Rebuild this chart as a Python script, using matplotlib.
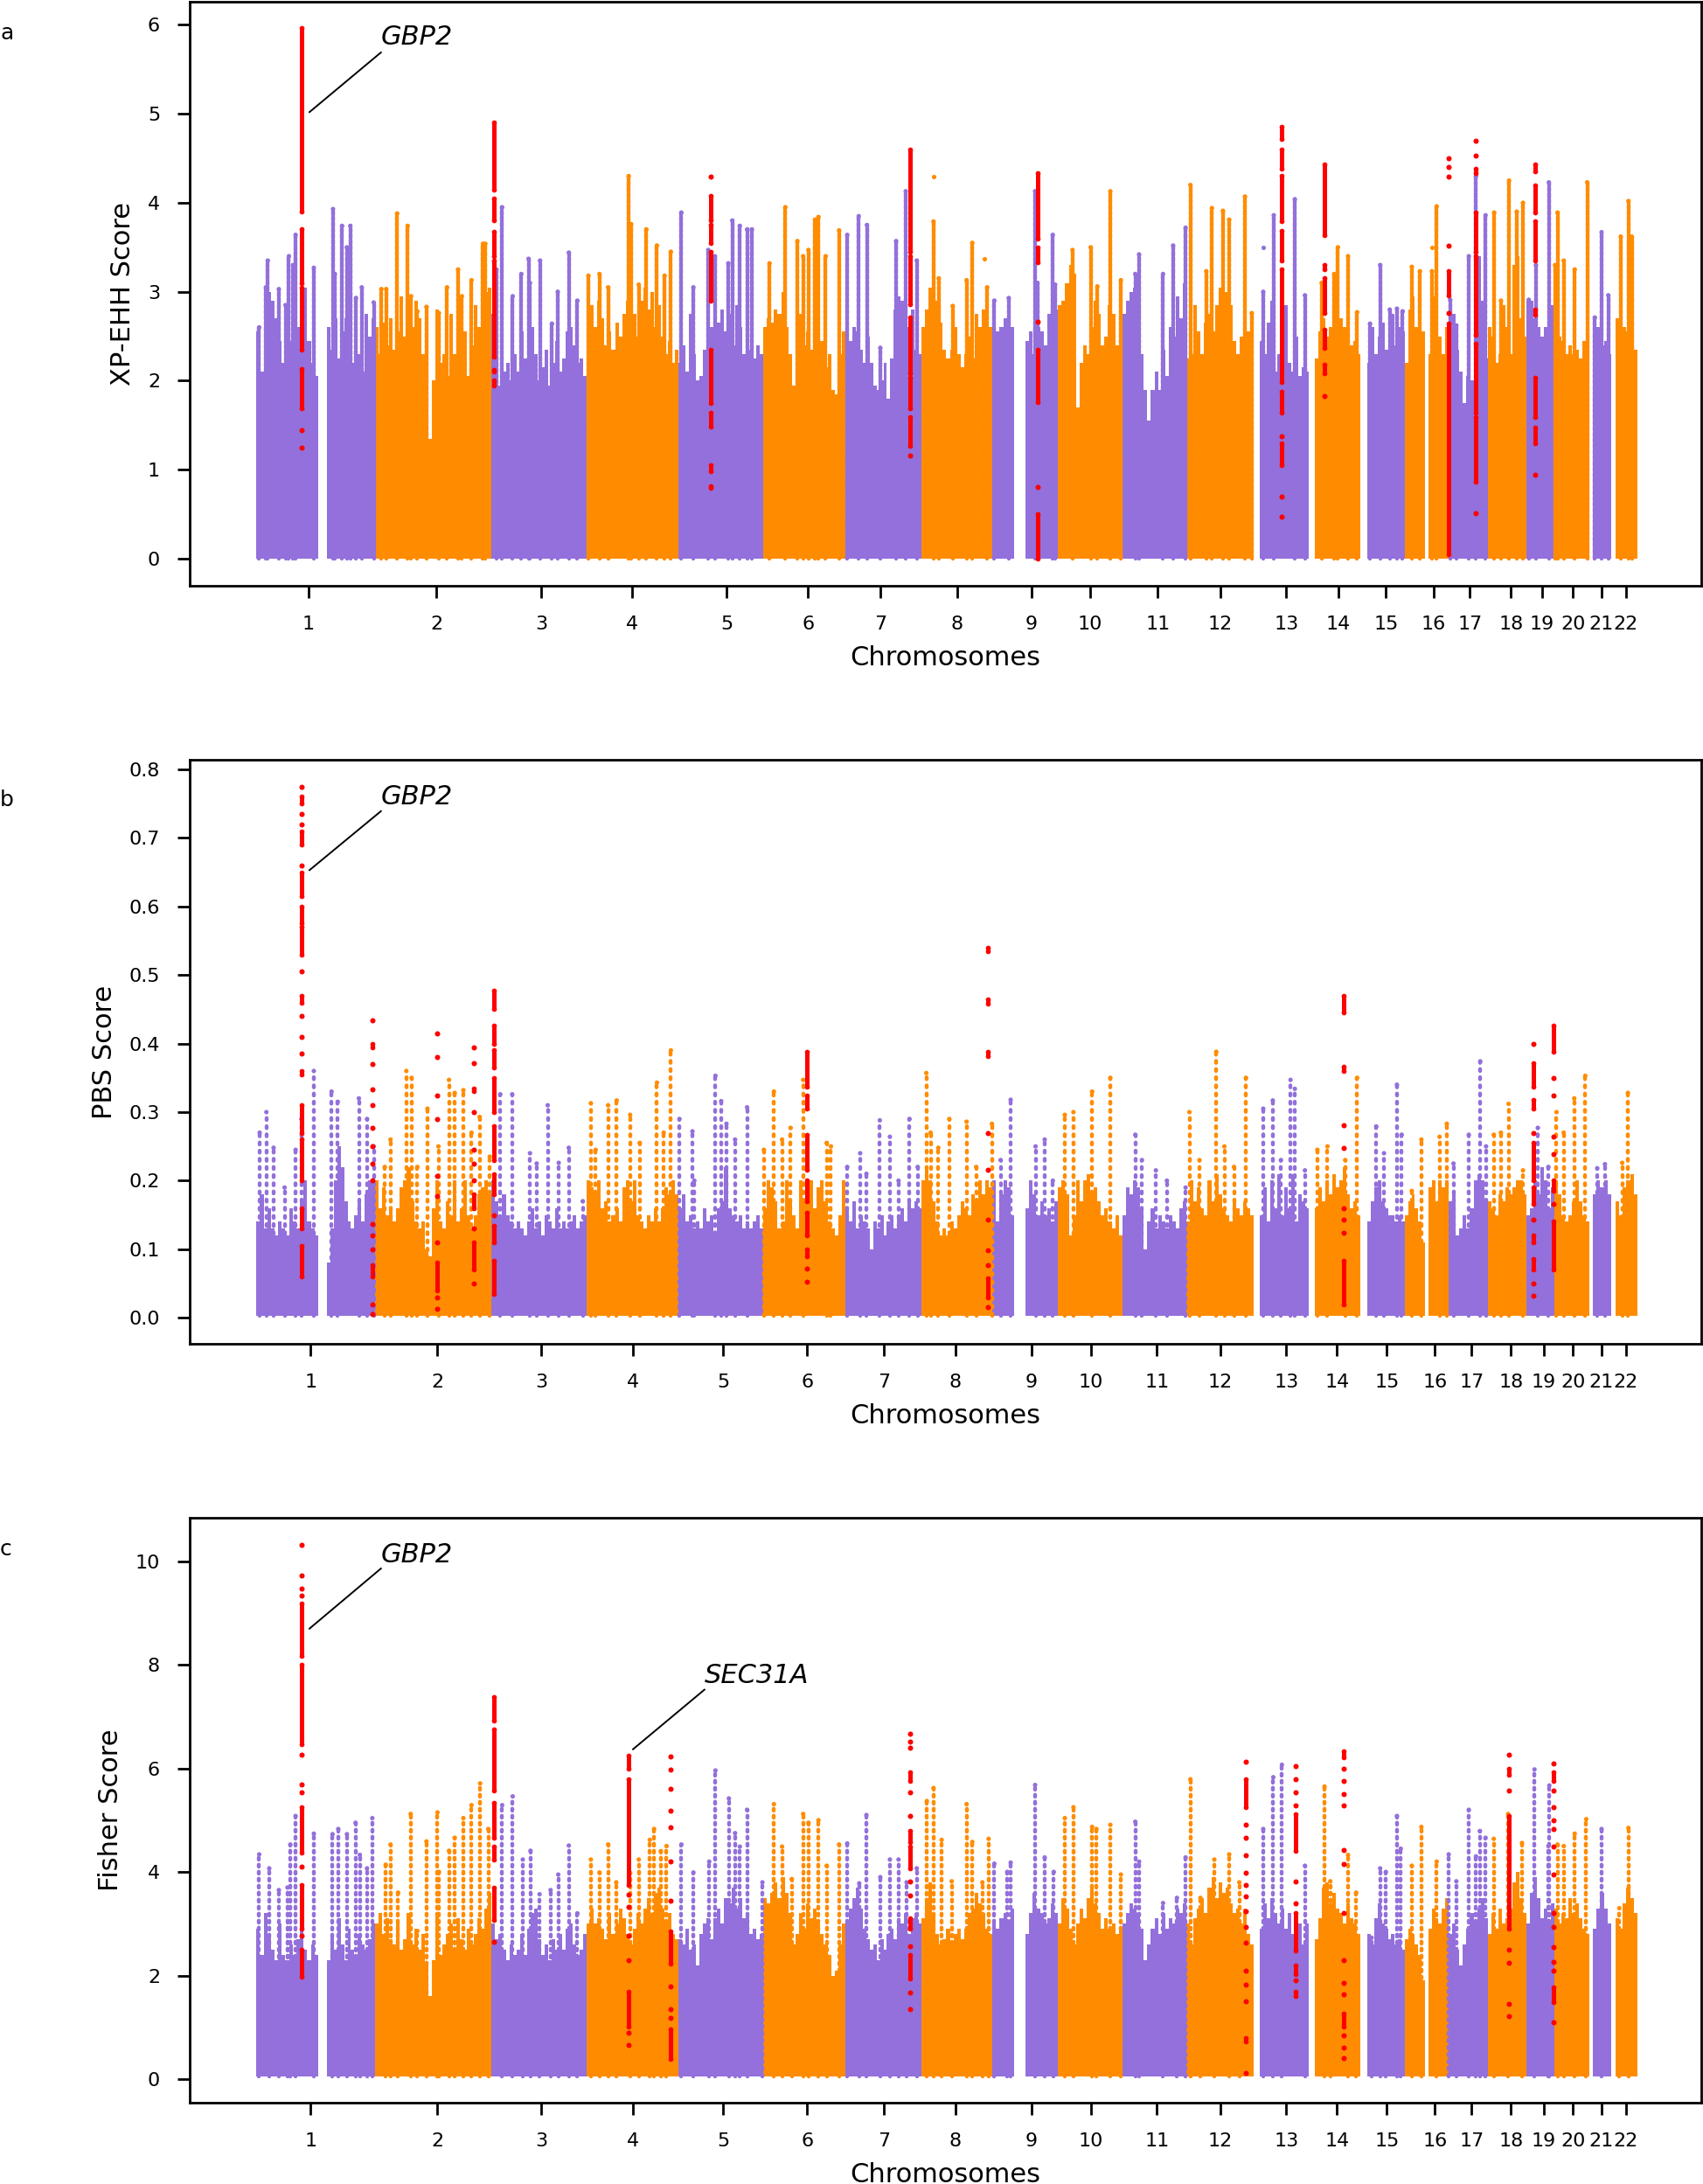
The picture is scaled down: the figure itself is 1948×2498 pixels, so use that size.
import matplotlib
matplotlib.use('Agg')
import matplotlib.pyplot as plt
import numpy as np

PURPLE = '#9370DB'
ORANGE = '#FF8C00'
RED = '#FF0000'

# chromosome edges on the cumulative genome axis (Mb)
chrom_edges = [0, 248, 491, 690, 880, 1058, 1229, 1388, 1536, 1673, 1807, 1941, 2081,
               2196, 2304, 2397, 2487, 2570, 2650, 2709, 2782, 2828, 2881]
chrom_names = [str(i) for i in range(1, 23)]

# stretches with data, centromere and telomere gaps left out
seg_start = [0, 147, 248, 491, 690, 880, 1058, 1229, 1388, 1536, 1605, 1673, 1807, 1941,
             2094, 2209, 2318, 2397, 2446, 2487, 2570, 2650, 2709, 2788, 2837]
seg_end = [129, 248, 491, 690, 880, 1058, 1229, 1388, 1536, 1581, 1673, 1807, 1941, 2081,
           2196, 2304, 2397, 2438, 2487, 2570, 2650, 2709, 2782, 2828, 2881]

ticks_a = [109, 376, 595, 784, 981, 1151, 1302, 1462, 1618, 1740, 1881, 2012, 2149, 2258,
           2357, 2457, 2532, 2618, 2683, 2747, 2807, 2858]
ticks_bc = [113, 378, 595, 785, 974, 1149, 1310, 1459, 1618, 1742, 1879, 2012, 2149, 2255,
            2359, 2459, 2536, 2618, 2686, 2747, 2807, 2858]

# top of the dense body, one list per stretch, read along the skyline
a_body = [
    [2.55, 2.1, 2.3, 3.0, 2.9, 2.7, 2.45, 2.2, 2.8, 2.45, 2.2, 2.6, 2.35, 3.05, 2.45, 2.2, 2.05],
    [2.6, 2.35, 2.7, 2.25, 2.55, 2.7, 2.5, 2.2, 2.6, 2.3, 2.1, 2.75, 2.5, 2.7],
    [2.6, 2.3, 2.65, 2.4, 2.7, 2.35, 2.55, 2.95, 2.5, 2.2, 2.6, 2.9, 2.7, 2.3, 2.1, 1.35, 2.0, 2.8, 2.2, 2.3,
     2.05, 2.75, 2.3, 1.9, 2.1, 2.55, 2.05, 2.4, 2.85, 2.6, 2.75, 3.0, 3.05],
    [2.75, 2.4, 1.95, 2.1, 2.2, 2.0, 2.3, 2.1, 2.55, 2.25, 2.0, 2.6, 2.3, 2.0, 2.15, 2.35, 1.95, 2.2, 2.45,
     2.1, 2.25, 2.55, 2.6, 2.4, 2.2, 2.25, 2.05],
    [2.4, 2.85, 2.6, 2.9, 2.7, 2.4, 2.55, 2.35, 2.65, 2.5, 2.75, 2.9, 2.6, 2.75, 2.5, 2.9, 3.05, 2.8, 3.0, 2.6,
     2.85, 2.5, 2.3, 2.45, 2.2, 2.35],
    [2.2, 2.4, 2.1, 2.75, 2.3, 2.0, 2.05, 2.35, 2.8, 2.6, 2.2, 2.65, 2.8, 2.55, 2.75, 2.4, 2.85, 2.6, 2.3, 2.2,
     2.35, 2.25, 2.4, 2.3],
    [2.6, 2.7, 2.65, 2.8, 2.75, 3.0, 2.6, 2.3, 1.95, 2.6, 2.75, 2.4, 2.55, 2.35, 2.6, 2.2, 2.45, 2.15, 2.3, 1.9,
     1.85, 2.3, 2.55],
    [2.55, 2.45, 2.6, 2.55, 2.35, 2.2, 2.5, 2.2, 1.95, 1.9, 2.0, 2.2, 1.8, 2.25, 2.8, 2.95, 2.9, 2.75, 2.6, 2.8,
     2.35, 2.3],
    [2.6, 2.8, 3.05, 2.95, 2.9, 2.65, 2.35, 2.25, 2.35, 2.6, 2.3, 2.15, 2.3, 2.5, 2.25, 2.75, 2.6, 2.8, 2.7, 2.6],
    [2.7, 2.55, 2.6, 2.7, 2.85, 2.6],
    [2.45, 2.55, 2.3, 2.6, 2.55, 2.4, 2.75, 2.65, 2.8],
    [2.85, 2.9, 3.1, 3.3, 3.2, 1.7, 2.2, 2.4, 2.3, 2.6, 2.9, 2.75, 2.4, 2.5, 2.85, 2.75, 2.4, 2.5],
    [2.75, 2.9, 3.0, 3.05, 2.6, 2.3, 1.9, 1.55, 1.9, 2.1, 1.9, 2.35, 2.05, 2.6, 2.5, 2.95, 2.7, 3.1],
    [2.25, 2.3, 2.85, 2.55, 2.3, 2.65, 2.75, 2.55, 2.85, 3.05, 3.0, 3.0, 2.85, 2.45, 2.3, 2.5, 2.8, 2.55, 2.3],
    [2.45, 2.3, 2.65, 2.9, 2.1, 2.3, 2.1, 2.85, 2.2, 2.1, 2.5, 2.05, 2.15, 2.1],
    [2.25, 2.55, 2.7, 2.5, 2.6, 2.7, 2.85, 2.7, 2.6, 2.5, 2.4, 2.45, 2.3],
    [2.2, 2.6, 2.3, 2.5, 2.65, 2.35, 2.6, 2.75, 2.4, 2.6, 2.55],
    [2.2, 2.8, 2.95, 2.6, 2.3, 2.55],
    [2.3, 2.95, 2.45, 2.5, 2.3, 2.6],
    [2.6, 2.75, 2.35, 2.1, 1.75, 2.05, 2.0, 3.3, 3.4, 2.9, 2.25],
    [2.6, 2.5, 2.2, 2.3, 2.85, 2.6, 2.3, 3.3, 3.4, 2.7, 2.5],
    [2.9, 2.9, 2.7, 2.6, 2.5, 2.6, 2.95, 2.85],
    [2.6, 2.5, 2.45, 2.3, 2.4, 2.3, 2.35, 2.25, 2.45, 2.4],
    [2.7, 2.6, 2.4, 2.45, 2.3],
    [2.7, 2.8, 2.6, 2.55, 2.4, 2.35],
]
b_body = [
    [.14, .18, .13, .16, .13, .12, .14, .13, .12, .16, .14, .13, .17, .2, .14, .13, .12],
    [.08, .13, .2, .25, .22, .17, .14, .13, .15, .17, .14, .18, .2, .2],
    [.2, .16, .19, .15, .16, .14, .16, .19, .2, .22, .17, .14, .13, .14, .1, .09, .16, .2, .14, .13, .17, .15,
     .2, .14, .16, .2, .15, .13, .15, .18, .19, .2, .18],
    [.2, .17, .15, .18, .15, .14, .13, .14, .13, .12, .14, .16, .13, .14, .12, .15, .14, .13, .16, .13, .14, .13,
     .14, .15, .13, .14, .15],
    [.2, .19, .18, .2, .16, .17, .14, .15, .16, .14, .19, .2, .17, .2, .15, .14, .13, .15, .14, .16, .14, .16,
     .19, .18, .2, .18],
    [.16, .18, .14, .15, .13, .14, .13, .16, .14, .15, .12, .16, .17, .22, .16, .15, .14, .15, .13, .14, .13, .14,
     .15, .13],
    [.16, .2, .19, .17, .13, .14, .2, .17, .15, .13, .2, .17, .19, .2, .16, .19, .2, .17, .14, .13, .12, .15, .2],
    [.16, .14, .17, .13, .15, .14, .13, .1, .14, .13, .15, .12, .14, .15, .13, .15, .16, .14, .17, .16, .17, .16],
    [.2, .22, .2, .17, .14, .12, .13, .12, .14, .13, .15, .17, .16, .15, .18, .17, .2, .18, .2, .19],
    [.2, .14, .18, .2, .19, .15],
    [.16, .2, .18, .15, .17, .15, .16, .14, .17],
    [.19, .2, .18, .12, .15, .2, .17, .2, .21, .18, .19, .17, .15, .16, .14, .13, .15, .12],
    [.15, .19, .18, .2, .19, .16, .1, .14, .16, .13, .15, .14, .13, .15, .14, .13, .16, .17],
    [.14, .2, .17, .19, .16, .15, .2, .17, .21, .18, .16, .15, .14, .17, .16, .15, .17, .16, .15],
    [.15, .19, .14, .2, .16, .21, .15, .19, .16, .21, .14, .18, .17, .16],
    [.16, .19, .17, .2, .18, .21, .19, .2, .22, .18, .16, .17, .15],
    [.14, .17, .19, .2, .17, .16, .15, .15, .14, .15, .14],
    [.15, .17, .18, .16, .14, .11],
    [.19, .2, .17, .2, .19, .2],
    [.17, .18, .12, .13, .15, .13, .16, .2, .21, .2, .17],
    [.17, .16, .15, .18, .17, .19, .18, .19, .2, .2, .18],
    [.15, .16, .2, .18, .22, .2, .16, .19],
    [.2, .18, .15, .14, .15, .17, .2, .17, .15, .14],
    [.18, .2, .19, .2, .18],
    [.17, .15, .19, .2, .21, .18],
]
c_body = [
    [2.9, 2.4, 3.2, 2.8, 2.5, 2.3, 3.0, 2.4, 2.3, 2.6, 2.4, 2.7, 3.2, 2.5, 2.3, 2.6, 2.4],
    [2.3, 2.8, 2.5, 3.1, 2.6, 2.3, 2.9, 2.5, 2.4, 2.8, 2.6, 2.5, 2.7, 3.0],
    [3.0, 3.2, 2.8, 3.1, 2.7, 2.6, 3.0, 2.5, 2.7, 3.2, 2.6, 2.9, 2.5, 2.8, 2.2, 1.6, 2.3, 3.2, 2.4, 2.6, 2.8, 3.0,
     2.5, 3.1, 2.7, 2.5, 2.9, 2.6, 2.8, 3.1, 2.9, 3.3, 3.6],
    [3.0, 2.7, 2.8, 2.5, 2.3, 2.6, 2.4, 2.5, 2.8, 2.4, 2.9, 3.2, 3.3, 2.7, 2.4, 2.6, 2.3, 2.7, 2.5, 2.8, 2.5, 2.9,
     3.0, 2.6, 2.4, 2.5, 2.8],
    [3.0, 3.3, 3.0, 3.1, 2.9, 2.7, 3.2, 2.8, 3.0, 3.3, 3.1, 2.8, 2.6, 2.9, 3.2, 3.0, 3.3, 3.5, 3.2, 3.6, 3.7, 3.3,
     3.0, 3.2, 2.8, 2.7],
    [2.7, 2.6, 2.9, 2.5, 2.6, 2.2, 2.8, 3.0, 3.1, 2.7, 3.1, 3.3, 3.0, 3.5, 3.4, 3.7, 3.3, 3.5, 3.1, 3.2, 2.8, 2.9,
     2.7, 2.8],
    [3.5, 3.4, 3.6, 3.8, 3.5, 3.9, 3.6, 3.2, 2.6, 2.8, 3.2, 2.9, 3.4, 3.1, 3.3, 3.0, 2.8, 2.6, 2.4, 2.0, 2.1, 2.6, 3.0],
    [3.0, 3.3, 3.5, 3.7, 3.3, 2.9, 2.7, 2.5, 2.6, 2.3, 2.7, 2.5, 2.8, 2.9, 2.7, 3.1, 3.0, 3.2, 2.8, 3.1, 3.2, 3.0],
    [3.1, 3.5, 3.8, 3.2, 2.8, 2.6, 2.7, 2.9, 2.6, 2.8, 2.9, 2.7, 2.9, 3.2, 3.3, 3.6, 3.4, 3.2, 2.9, 2.8],
    [3.0, 2.9, 3.1, 3.2, 3.0, 3.3],
    [2.8, 3.2, 3.6, 3.3, 3.2, 3.0, 3.1, 3.4, 3.2],
    [3.0, 3.5, 3.3, 2.9, 2.6, 3.0, 3.3, 3.1, 3.5, 3.7, 3.4, 3.2, 2.9, 3.1, 2.9, 3.0, 2.8, 2.9],
    [3.0, 3.2, 3.4, 3.3, 3.2, 2.9, 2.3, 2.6, 2.9, 3.1, 2.8, 3.2, 2.9, 3.1, 3.0, 3.3, 3.2, 3.4],
    [3.0, 2.6, 3.1, 3.3, 3.5, 3.2, 3.7, 3.9, 3.5, 3.8, 3.6, 3.7, 3.4, 3.2, 3.3, 3.0, 3.3, 2.8, 2.6],
    [2.9, 3.4, 3.1, 3.5, 3.2, 3.0, 3.3, 2.9, 3.2, 2.8, 2.7, 3.0, 2.6, 3.0],
    [2.7, 3.1, 3.7, 3.8, 3.4, 3.6, 3.3, 3.2, 3.0, 3.4, 3.1, 3.0, 2.8],
    [2.8, 2.6, 3.1, 3.4, 3.0, 2.9, 2.7, 2.8, 2.6, 2.7, 2.5],
    [2.7, 2.9, 2.8, 2.6, 2.4, 1.9],
    [2.9, 3.3, 3.1, 3.0, 3.3, 3.5],
    [2.8, 3.0, 2.5, 2.2, 2.6, 2.9, 3.2, 3.0, 3.3, 3.5, 3.1],
    [2.8, 3.2, 2.9, 3.3, 3.0, 3.1, 3.3, 3.8, 4.0, 3.5, 3.2],
    [3.0, 3.6, 3.9, 3.5, 3.1, 3.3, 3.0, 3.4],
    [3.3, 3.0, 3.2, 3.1, 3.5, 3.2, 3.4, 3.1, 2.9, 2.8],
    [2.9, 3.3, 3.6, 3.3, 3.0],
    [3.1, 2.9, 3.4, 3.7, 3.5, 3.2],
]

# columns of points rising above the body: (position Mb, top of column)
a_spikes = [
    (6, 2.6), (20, 3.05), (24, 3.35), (47, 3.03), (61, 2.85), (68, 3.4), (77, 3.3), (82, 3.64), (120, 3.27),
    (160, 3.93), (164, 3.2), (179, 3.74), (189, 3.5), (196, 3.74), (208, 2.93), (220, 3.05), (245, 2.88),
    (261, 3.03), (271, 3.03), (294, 3.88), (316, 3.74), (323, 2.95), (336, 2.78), (355, 2.83), (381, 2.76),
    (398, 3.05), (421, 3.25), (429, 2.95), (449, 3.13), (473, 3.54), (478, 3.54),
    (501, 3.25), (513, 3.95), (535, 2.95), (553, 3.2), (568, 3.37), (571, 3.1), (592, 3.35), (617, 2.64),
    (629, 3.0), (652, 3.44), (670, 2.9),
    (693, 3.18), (716, 3.2), (734, 3.05), (777, 4.3), (782, 3.76), (798, 3.08), (814, 3.7), (836, 3.52),
    (852, 3.18), (865, 3.45),
    (887, 3.89), (912, 3.05), (943, 3.47), (957, 3.4), (985, 3.32), (993, 3.8), (1009, 3.74), (1024, 3.7), (1034, 3.7),
    (1071, 3.32), (1104, 3.95), (1129, 3.57), (1141, 3.4), (1152, 3.47), (1166, 3.81), (1173, 3.84),
    (1188, 3.4), (1216, 3.69), (1233, 3.64),
    (1257, 3.85), (1274, 3.75), (1302, 2.37), (1335, 3.57), (1355, 4.13), (1378, 3.35),
    (1413, 3.79), (1424, 3.15), (1453, 2.84), (1482, 3.13), (1494, 3.55), (1525, 3.05),
    (1540, 2.9), (1570, 2.93), (1625, 4.13), (1630, 3.1), (1662, 3.64), (1667, 3.08),
    (1703, 3.47), (1741, 3.5), (1755, 3.06), (1782, 4.13), (1804, 3.13),
    (1834, 3.2), (1842, 3.42), (1892, 3.2), (1913, 3.52), (1939, 3.72),
    (1949, 4.2), (1982, 3.23), (1994, 3.94), (2017, 3.91), (2030, 3.81), (2063, 4.07), (2077, 2.76),
    (2101, 3.0), (2123, 3.86), (2167, 4.04), (2188, 2.96),
    (2223, 3.1), (2249, 3.2), (2257, 3.5), (2278, 3.4), (2297, 2.77),
    (2324, 2.64), (2345, 3.3), (2365, 2.8), (2380, 2.81), (2392, 2.78),
    (2411, 3.28), (2428, 3.23), (2453, 3.23), (2463, 3.96),
    (2491, 2.91), (2504, 2.62), (2530, 3.4), (2545, 4.3), (2565, 3.86),
    (2583, 3.89), (2597, 2.9), (2614, 4.25), (2630, 3.9), (2643, 4.0),
    (2655, 2.91), (2670, 3.3), (2697, 4.23), (2710, 3.3),
    (2715, 3.89), (2728, 3.35), (2751, 3.25), (2777, 4.23),
    (2793, 2.71), (2807, 3.67), (2821, 2.96), (2847, 3.62), (2863, 4.02), (2870, 3.62),
]
b_spikes = [
    (7, .27), (21, .3), (36, .248), (59, .19), (82, .245), (94, .29), (120, .36),
    (157, .33), (170, .315), (214, .32), (231, .29), (245, .25),
    (268, .22), (280, .26), (313, .36), (324, .35), (336, .22), (357, .305), (380, .25), (402, .347),
    (414, .328), (432, .332), (449, .27), (466, .293), (487, .235),
    (509, .326), (534, .326), (571, .24), (585, .225), (608, .31), (631, .226), (652, .248), (681, .17),
    (698, .313), (708, .245), (734, .31), (752, .317), (780, .296), (800, .255), (836, .343), (850, .27), (865, .39),
    (883, .29), (910, .272), (914, .2), (958, .353), (970, .316), (981, .283), (999, .26), (1024, .307), (1059, .245),
    (1080, .33), (1097, .26), (1115, .277), (1141, .347), (1190, .255), (1199, .25), (1233, .22),
    (1260, .24), (1273, .21), (1301, .288), (1322, .264), (1340, .2), (1363, .29), (1380, .22),
    (1398, .357), (1407, .27), (1423, .248), (1446, .29), (1482, .286), (1502, .22), (1535, .283),
    (1553, .23), (1574, .318), (1626, .25), (1645, .26), (1662, .2),
    (1687, .296), (1705, .3), (1744, .33), (1782, .35),
    (1834, .267), (1848, .23), (1877, .215), (1900, .2), (1939, .19),
    (1947, .3), (1968, .23), (2003, .388), (2020, .25), (2040, .22), (2065, .35),
    (2101, .305), (2121, .317), (2138, .23), (2158, .347), (2167, .334), (2188, .215),
    (2214, .245), (2235, .25), (2272, .23), (2297, .35),
    (2337, .279), (2353, .24), (2380, .34), (2390, .267),
    (2411, .185), (2431, .26), (2469, .264), (2484, .283),
    (2498, .225), (2530, .267), (2554, .374), (2566, .25),
    (2582, .267), (2597, .27), (2613, .312), (2643, .215),
    (2674, .277), (2696, .22), (2713, .3), (2728, .27), (2750, .32), (2773, .353),
    (2798, .218), (2814, .224), (2850, .226), (2862, .328),
]
c_spikes = [
    (6, 4.34), (27, 4.07), (47, 3.65), (65, 3.7), (71, 4.53), (82, 5.08), (120, 4.74),
    (159, 4.73), (171, 4.83), (189, 4.73), (207, 4.95), (216, 4.33), (231, 4.07), (242, 5.04),
    (270, 4.14), (280, 4.53), (296, 3.6), (322, 5.12), (336, 2.86), (355, 4.59), (378, 5.15), (381, 4.0),
    (402, 4.41), (414, 4.66), (432, 5.04), (449, 5.29), (467, 5.71), (484, 4.83),
    (513, 5.29), (535, 5.46), (556, 4.24), (572, 4.41), (591, 3.57), (614, 3.65), (630, 3.95), (652, 4.51), (670, 3.2),
    (698, 4.24), (716, 3.99), (734, 4.53), (751, 3.8), (780, 3.98), (798, 4.24), (821, 4.62), (830, 4.83),
    (844, 4.4), (856, 4.5), (887, 4.53),
    (912, 3.99), (945, 4.2), (958, 5.96), (986, 5.42), (999, 4.75), (1009, 4.49), (1024, 5.2), (1056, 3.8),
    (1080, 5.31), (1097, 4.49), (1117, 3.86), (1141, 5.12), (1152, 4.95), (1173, 5.0), (1190, 4.12),
    (1216, 4.53), (1233, 4.55),
    (1258, 3.78), (1273, 5.1), (1302, 3.9), (1322, 4.24), (1340, 4.24), (1357, 3.8), (1378, 4.07),
    (1399, 5.37), (1413, 5.62), (1430, 4.62), (1451, 3.82), (1482, 5.31), (1494, 4.58), (1515, 3.8), (1528, 4.64),
    (1540, 4.16), (1567, 4.0), (1574, 4.18), (1625, 5.68), (1645, 4.28), (1664, 4.0),
    (1687, 5.04), (1705, 5.25), (1744, 4.87), (1753, 4.83), (1782, 4.91), (1804, 3.95),
    (1834, 4.97), (1842, 4.2), (1892, 3.4), (1921, 3.5), (1939, 4.28),
    (1949, 5.79), (1970, 3.5), (1999, 4.24), (2030, 4.34), (2051, 3.8),
    (2101, 4.83), (2122, 5.83), (2140, 6.07), (2188, 4.12),
    (2229, 5.65), (2241, 3.82), (2278, 4.33), (2295, 3.6),
    (2327, 2.73), (2345, 4.07), (2357, 4.0), (2380, 5.08), (2388, 4.45),
    (2411, 4.12), (2431, 4.87), (2463, 4.2), (2488, 4.34),
    (2504, 3.82), (2530, 5.2), (2545, 4.3), (2553, 4.79), (2565, 4.66),
    (2582, 4.64), (2612, 5.12), (2641, 4.56),
    (2667, 5.98), (2696, 4.5), (2698, 5.67),
    (2715, 4.53), (2728, 4.5), (2751, 4.74), (2775, 5.02),
    (2807, 4.83), (2844, 3.3), (2863, 4.85),
]
# lone points floating above their column
a_dots = [(1413, 4.29), (1520, 3.37), (2101, 3.5), (2453, 3.5)]

# flagged SNPs: each site is a list of (low, high) runs
a_red_sites = [94, 495, 949, 1364, 1631, 2139, 2229, 2488, 2545, 2669]
a_red_runs = [
    [(1.25, 1.25), (1.44, 1.44), (1.69, 2.13), (2.35, 3.05), (3.1, 3.7), (3.9, 5.97)],
    [(1.95, 2.0), (2.1, 2.12), (2.27, 3.35), (3.4, 3.68), (3.8, 4.05), (4.15, 4.9)],
    [(0.8, 0.82), (0.98, 1.05), (1.48, 1.64), (1.75, 2.35), (2.9, 3.45), (3.55, 3.75), (3.8, 4.08), (4.29, 4.29)],
    [(1.16, 1.16), (1.27, 1.59), (1.69, 2.03), (2.08, 2.71), (2.86, 3.4), (3.45, 4.6)],
    [(0.0, 0.5), (0.81, 0.81), (1.76, 2.35), (2.66, 2.66), (3.33, 3.5), (3.6, 4.33)],
    [(0.47, 0.47), (0.7, 0.7), (1.05, 1.3), (1.38, 1.38), (1.64, 1.88), (1.98, 3.25), (3.35, 3.69), (3.79, 4.3), (4.38, 4.6), (4.72, 4.85)],
    [(1.83, 1.83), (2.08, 2.18), (2.37, 2.57), (2.76, 3.15), (3.25, 3.3), (3.64, 4.43)],
    [(0.05, 2.64), (2.76, 2.76), (2.96, 3.23), (3.52, 3.52), (4.29, 4.29), (4.4, 4.4), (4.5, 4.5)],
    [(0.51, 0.51), (0.86, 1.59), (1.64, 2.42), (2.52, 3.4), (3.45, 3.89), (4.33, 4.38), (4.53, 4.53), (4.7, 4.7)],
    [(0.94, 0.94), (1.3, 1.47), (1.59, 2.03), (2.74, 2.8), (3.35, 3.79), (3.89, 4.2), (4.35, 4.43)],
]
b_red_sites = [94, 243, 378, 453, 495, 1149, 1527, 2268, 2665, 2706]
b_red_runs = [
    [(.06, .105), (.13, .16), (.2, .26), (.27, .31), (.355, .36), (.385, .385), (.41, .41), (.44, .44), (.46, .47), (.505, .505),
     (.53, .57), (.575, .6), (.615, .65), (.66, .66), (.69, .71), (.72, .72), (.735, .735), (.75, .76), (.775, .775)],
    [(.005, .005), (.02, .02), (.06, .077), (.1, .1), (.12, .12), (.137, .137), (.2, .2), (.225, .225), (.25, .25), (.277, .277),
     (.31, .31), (.333, .333), (.37, .37), (.395, .4), (.434, .434)],
    [(.013, .013), (.03, .03), (.04, .08), (.11, .11), (.178, .178), (.207, .207), (.29, .29), (.324, .324), (.38, .38), (.415, .415)],
    [(.05, .05), (.07, .11), (.13, .13), (.16, .18), (.2, .2), (.225, .225), (.245, .245), (.3, .3), (.33, .335), (.372, .372), (.394, .394)],
    [(.035, .083), (.11, .134), (.15, .15), (.18, .21), (.23, .28), (.3, .35), (.365, .39), (.40, .426), (.45, .477)],
    [(.053, .053), (.072, .072), (.09, .1), (.12, .153), (.17, .2), (.216, .267), (.305, .324), (.337, .388)],
    [(.016, .016), (.03, .058), (.077, .077), (.098, .098), (.143, .143), (.216, .216), (.27, .27), (.382, .388), (.458, .464), (.535, .54)],
    [(.02, .083), (.124, .124), (.143, .143), (.16, .16), (.248, .248), (.281, .281), (.36, .366), (.445, .47)],
    [(.032, .032), (.05, .05), (.07, .086), (.11, .12), (.143, .143), (.166, .19), (.2, .255), (.27, .27), (.305, .318), (.337, .372), (.4, .4)],
    [(.07, .14), (.166, .166), (.185, .2), (.239, .239), (.264, .264), (.324, .324), (.35, .35), (.388, .426)],
]
c_red_sites = [94, 495, 777, 865, 1364, 2064, 2168, 2268, 2614, 2706]
c_red_runs = [
    [(1.98, 2.5), (2.77, 2.77), (2.9, 3.74), (4.1, 4.1), (4.37, 5.25), (5.54, 5.54), (5.69, 5.69), (6.27, 6.27), (6.46, 8.0),
     (8.18, 9.19), (9.34, 9.34), (9.48, 9.48), (9.73, 9.73), (10.32, 10.32)],
    [(2.65, 2.65), (3.07, 3.7), (4.24, 4.49), (4.66, 5.33), (5.58, 6.76), (6.92, 7.38)],
    [(0.66, 0.66), (0.89, 0.89), (1.01, 1.68), (2.29, 2.29), (2.77, 2.77), (3.32, 3.32), (3.57, 3.57), (3.74, 5.79), (6.0, 6.25)],
    [(0.39, 0.97), (1.18, 1.18), (1.35, 1.35), (1.79, 1.79), (2.23, 2.86), (3.45, 3.45), (4.2, 4.2), (4.87, 4.87), (5.18, 5.18),
     (5.6, 5.6), (5.98, 5.98), (6.23, 6.23)],
    [(1.35, 1.35), (1.67, 1.67), (1.94, 2.4), (2.56, 2.56), (2.9, 3.11), (3.55, 3.55), (3.82, 3.82), (4.07, 4.49), (4.58, 4.79),
     (5.08, 5.08), (5.54, 5.54), (5.75, 5.92), (6.4, 6.4), (6.52, 6.52), (6.67, 6.67)],
    [(0.12, 0.12), (0.72, 0.8), (1.5, 1.5), (1.83, 1.83), (2.1, 2.1), (2.63, 2.63), (2.94, 2.94), (3.24, 3.24), (3.53, 3.53),
     (3.74, 3.74), (3.99, 3.99), (4.33, 4.33), (4.66, 4.66), (4.91, 4.91), (5.25, 5.79), (6.13, 6.13)],
    [(1.6, 1.68), (1.9, 1.9), (2.02, 2.19), (2.48, 3.2), (3.4, 3.4), (3.82, 3.82), (4.41, 5.12), (5.29, 5.29), (5.54, 5.54),
     (5.79, 5.79), (6.04, 6.04)],
    [(0.4, 0.4), (0.6, 0.6), (0.85, 0.85), (1.01, 1.27), (1.64, 1.64), (1.85, 1.85), (2.3, 2.3), (3.2, 3.2), (4.16, 4.16),
     (4.43, 4.43), (5.29, 5.29), (5.5, 5.5), (5.75, 5.75), (6.0, 6.0), (6.21, 6.34)],
    [(1.22, 1.22), (1.45, 1.45), (2.25, 2.25), (2.5, 2.5), (2.9, 5.08), (5.57, 5.57), (5.88, 6.0), (6.27, 6.27)],
    [(1.1, 1.1), (1.48, 1.77), (2.1, 2.1), (2.27, 2.27), (2.55, 2.55), (2.94, 2.94), (3.2, 3.2), (3.95, 3.95), (4.49, 4.49),
     (4.83, 4.83), (5.0, 5.0), (5.25, 5.25), (5.58, 5.58), (5.75, 5.92), (6.1, 6.1)],
]


def chrom_colour(pos):
    # odd chromosomes purple, even orange
    idx = np.searchsorted(chrom_edges, pos, side='right') - 1
    return PURPLE if idx % 2 == 0 else ORANGE


def draw_panel(ax, body, spikes, red_sites, red_runs, base, dashes, ticks, dots=()):
    for start, end, tops in zip(seg_start, seg_end, body):
        width = (end - start) / len(tops)
        lefts = [start + i * width for i in range(len(tops))]
        # a stretch belongs to one chromosome, its midpoint gives the colour
        colour = chrom_colour((start + end) / 2)
        ax.bar(lefts, [t - base for t in tops], width=width, bottom=base, align='edge',
               color=colour, linewidth=0)

    pos = [s[0] for s in spikes]
    tops = [s[1] for s in spikes]
    colours = [chrom_colour(p) for p in pos]
    ax.vlines(pos, base, tops, colors=colours, linewidth=1.6, linestyles=dashes, capstyle='round')
    ax.scatter(pos, tops, s=3.4, c=colours, linewidths=0)
    for x, y in dots:
        ax.scatter([x], [y], s=3.4, c=chrom_colour(x), linewidths=0)

    for site, runs in zip(red_sites, red_runs):
        lows = [r[0] for r in runs]
        highs = [r[1] for r in runs]
        ax.vlines([site] * len(runs), lows, highs, colors=RED, linewidth=1.8, zorder=4)
        ax.scatter([site] * (2 * len(runs)), lows + highs, s=4.2, c=RED, linewidths=0, zorder=4)

    ax.set_xlim(-139, 3015)
    ax.set_xticks(ticks)
    ax.set_xticklabels(chrom_names)
    ax.set_xlabel('Chromosomes', fontsize=11, labelpad=5)
    ax.tick_params(length=5.2, width=1.0, labelsize=8, pad=7)
    for s in ax.spines.values():
        s.set_linewidth(1.0)


def gene_label(ax, name, x0, y0, x1, y1, ty):
    ax.plot([x0, x1], [y0, y1], color='black', linewidth=0.7)
    ax.text(x1, ty, name, style='italic', fontsize=11, va='center', ha='left')


W, H = 1948, 2498
fig = plt.figure(figsize=(W / 200, H / 200), dpi=200)
ax_a = fig.add_axes([217 / W, 1 - 670 / H, 1729 / W, 668 / H])
ax_b = fig.add_axes([217 / W, 1 - 1537 / H, 1729 / W, 668 / H])
ax_c = fig.add_axes([217 / W, 1 - 2405 / H, 1729 / W, 669 / H])

draw_panel(ax_a, a_body, a_spikes, a_red_sites, a_red_runs, 0.0, (0, (1, 0.5)), ticks_a, a_dots)
draw_panel(ax_b, b_body, b_spikes, b_red_sites, b_red_runs, 0.003, (0, (0.5, 1.6)), ticks_bc)
draw_panel(ax_c, c_body, c_spikes, c_red_sites, c_red_runs, 0.05, (0, (0.5, 1.3)), ticks_bc)

ax_a.set_ylim(-0.305, 6.26)
ax_b.set_ylim(-0.038, 0.814)
ax_c.set_ylim(-0.456, 10.84)
ax_a.set_yticks(range(0, 7))
ax_b.set_yticks([0.0, 0.1, 0.2, 0.3, 0.4, 0.5, 0.6, 0.7, 0.8])
ax_c.set_yticks([0, 2, 4, 6, 8, 10])
ax_a.set_ylabel('XP-EHH Score', fontsize=11, labelpad=5)
ax_b.set_ylabel('PBS Score', fontsize=11, labelpad=5)
ax_c.set_ylabel('Fisher Score', fontsize=11, labelpad=5)

gene_label(ax_a, 'GBP2', 111, 5.02, 260, 5.69, 5.86)
gene_label(ax_b, 'GBP2', 111, 0.653, 260, 0.739, 0.76)
gene_label(ax_c, 'GBP2', 111, 8.7, 260, 9.86, 10.12)
gene_label(ax_c, 'SEC31A', 786, 6.37, 935, 7.52, 7.8)

for letter, py in zip('abc', [38, 915, 1772]):
    fig.text(0, 1 - py / H, letter, fontsize=9, va='center', ha='left')

fig.savefig('out.png', dpi=200)
